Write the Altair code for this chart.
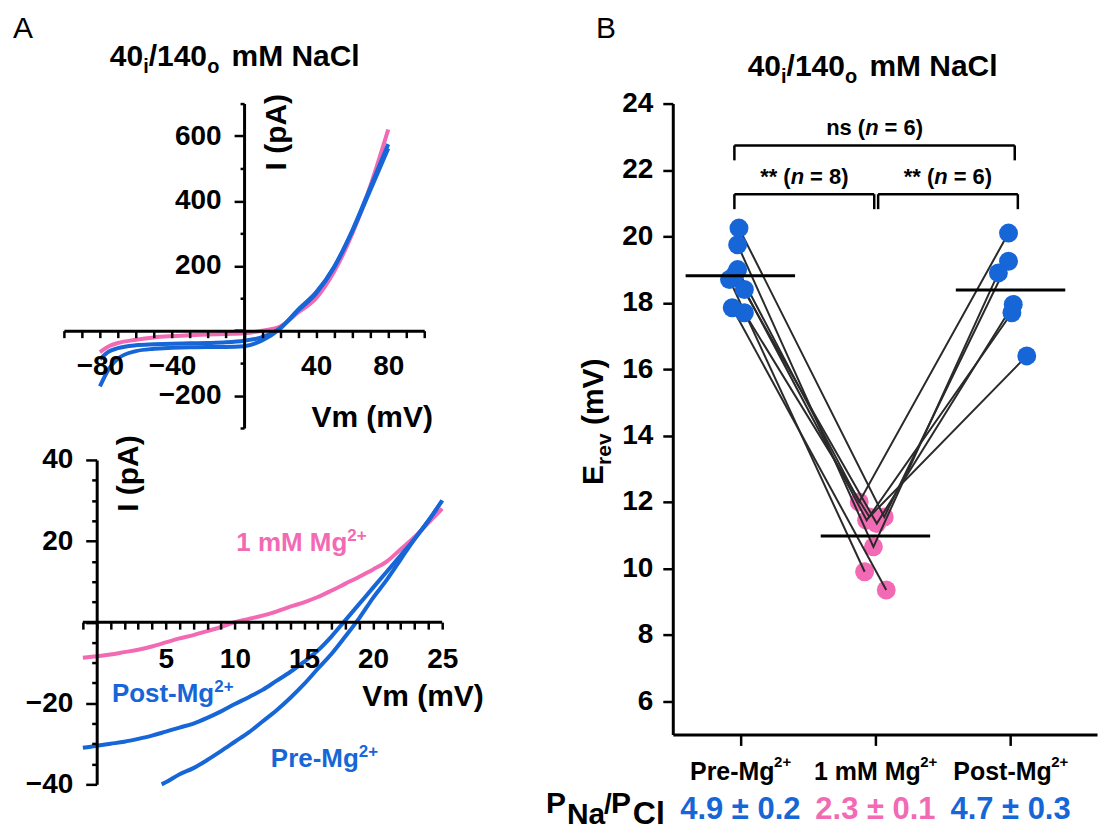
import altair as alt
import pandas as pd

FONT = "Liberation Sans"
BLUE = "#1666D8"
PINK = "#F26AB4"
BLACK = "#000000"
LINK = "#2A2A2A"
NBSP = "\u00a0"

# ---------------- data ----------------
# Panel A (top): whole-cell I-V, 40i/140o mM NaCl
v_top = [-80, -75, -70, -60, -50, -40, -30, -20, -10, 0, 10, 20, 30, 40, 50, 60, 70, 80]
i_top_mg = [-66, -48, -38, -28, -21, -17, -14, -12, -10, -8, 0, 13, 56, 100, 182, 298, 445, 620]
i_top_post = [-88, -64, -54, -45, -42, -40, -39, -38, -36, -31, -20, 8, 62, 115, 195, 305, 432, 562]
i_top_pre = [-172, -118, -86, -63, -56, -53, -51, -50, -50, -48, -30, 6, 65, 118, 197, 308, 440, 575]

# Panel A (bottom): zoom around the reversal potential
v_bot = list(range(-1, 26))
i_bot_mg = [-8.8, -8.4, -8.0, -7.4, -6.8, -6.0, -5.0, -4.0, -3.2, -2.2, -1.2, 0.0, 0.8, 1.6,
            2.6, 3.8, 4.9, 6.2, 7.8, 9.5, 11.2, 13.0, 15.0, 18.0, 21.0, 24.5, 28.0]
i_bot_post = [-31.0, -30.5, -30.0, -29.5, -28.8, -28.0, -27.0, -26.0, -25.0, -23.6, -22.0, -20.2,
              -18.5, -16.7, -14.5, -12.3, -9.8, -7.0, -3.5, 0.5, 4.5, 8.5, 12.5, 16.5, 20.5, 25.0, 30.0]
v_bot_pre = [4.7] + list(range(5, 26))
i_bot_pre = [-40.0, -39.5, -37.5, -36.0, -34.0, -31.8, -29.5, -27.2, -24.5, -21.8, -18.7, -15.3,
             -11.5, -7.8, -3.5, 1.0, 6.0, 10.5, 15.5, 20.5, 25.0, 30.0]
bot_v_range = [-1, 25]

trace_names = ["mg", "pre", "post"]
trace_labels = ["1 mM Mg", "Pre-Mg", "Post-Mg"]
trace_sup = ["2+", "2+", "2+"]
trace_colors = [PINK, BLUE, BLUE]
label_v = [10.1, 12.6, 1.1]
label_i = [17.5, -35.7, -19.7]

# Panel B: reversal potentials per cell
conditions = ["Pre-Mg", "1 mM Mg", "Post-Mg"]
cond_sup = ["2+", "2+", "2+"]
cond_colors = [BLUE, PINK, BLUE]
erev_pre = [20.25, 19.75, 19.0, 18.85, 18.7, 18.4, 17.85, 17.7]
jit_pre = [-0.01, -0.02, -0.02, -0.04, -0.08, 0.03, -0.06, 0.03]
erev_mg = [11.55, 10.65, 12.0, 11.35, 9.9, 11.45, 9.35, 11.55]
jit_mg = [0.065, -0.015, -0.12, 0.01, -0.08, -0.065, 0.08, -0.045]
erev_post = [19.25, 18.9, 20.1, 17.95, None, 17.7, None, 16.4]
jit_post = [-0.015, -0.09, -0.015, 0.02, None, 0.01, None, 0.12]
perm_mean = [4.9, 2.3, 4.7]
perm_sem = [0.2, 0.1, 0.3]

# significance brackets
br_left = [0.956, 0.956, 2.02]
br_right = [3.031, 1.991, 3.054]
br_y = [22.74, 21.27, 21.27]
br_leg = 0.45
br_star = ["ns", "**", "**"]
br_n = [6, 8, 6]

# ---------------- helpers ----------------
ARIAL_BOLD_W = {"n": .611, "s": .556, " ": .278, NBSP: .278, "(": .333, ")": .333, "*": .389,
                "=": .584, "+": .584, "P": .667, "r": .389, "e": .556, "-": .333, "M": .833,
                "g": .611, "m": .889, "o": .611, "t": .333}


def text_width(s, size):
    return sum(ARIAL_BOLD_W.get(c, .556) for c in s) * size


def ptext(txt, x, y, size, color=BLACK, weight="bold", style="normal", align="left",
          baseline="alphabetic", angle=None):
    kw = dict(align=align, baseline=baseline, fontSize=size, fontWeight=weight,
              fontStyle=style, color=color, font=FONT)
    if angle is not None:
        kw["angle"] = angle
    return alt.Chart(pd.DataFrame({"t": [txt]})).mark_text(**kw).encode(
        text="t:N", x=alt.value(x), y=alt.value(y))


def title_parts(x0, y0):
    return [
        ptext("40", x0, y0, 30),
        ptext("i", x0 + 33.5, y0 + 7, 20),
        ptext("/140", x0 + 39, y0, 30),
        ptext("o", x0 + 97.5, y0 + 7, 20),
        ptext("mM NaCl", x0 + 122, y0, 30),
    ]


def tick_cond(major, big, small):
    return {"condition": {"test": f"datum.value % {major} === 0", "value": big}, "value": small}


axis_style = dict(domainColor=BLACK, domainWidth=3, tickColor=BLACK, tickWidth=2.5, ticks=True,
                  tickOpacity=1, labelFont=FONT, labelFontWeight="bold", labelColor=BLACK, grid=False,
                  labelFlush=False, labelOverlap=False, labelBound=False, title=None)

color_scale = alt.Scale(domain=trace_names, range=trace_colors)

# ---------------- Panel A top ----------------
rows = []
for name, arr in [("mg", i_top_mg), ("pre", i_top_pre), ("post", i_top_post)]:
    for v, i in zip(v_top, arr):
        rows.append({"v": v, "i": i, "trace": name})
df_top = pd.DataFrame(rows)

TW, TH = 361, 325
top_lines = alt.Chart(df_top).mark_line(strokeWidth=4, interpolate="monotone").encode(
    x=alt.X("v:Q", scale=alt.Scale(domain=[-100, 100], nice=False, zero=False),
            axis=alt.Axis(**axis_style, orient="bottom", offset=-TH * 0.3, zindex=1,
                          values=list(range(-100, 101, 10)), tickSize=7,
                          labelExpr="(datum.value % 40 === 0 && datum.value !== 0) ? datum.label : ''",
                          labelFontSize=28, labelPadding=15, labelBaseline="top")),
    y=alt.Y("i:Q", scale=alt.Scale(domain=[-300, 700], nice=False, zero=False),
            axis=alt.Axis(**axis_style, orient="left", offset=-TW * 0.5, zindex=1,
                          values=list(range(-300, 701, 100)), tickSize=tick_cond(200, 10, 4),
                          labelExpr="(datum.value % 200 === 0 && datum.value !== 0) ? datum.label : ''",
                          labelFontSize=28, labelPadding=13)),
    color=alt.Color("trace:N", scale=color_scale, legend=None),
)

top_layers = [top_lines,
              ptext("A", -51, -66, 30, weight="normal"),
              ptext("I (pA)", 223, 67, 30, angle=270),
              ptext("Vm (mV)", 248, 324, 30)] + title_parts(46, -38)
topA = alt.layer(*top_layers).properties(width=TW, height=TH)

# ---------------- Panel A bottom ----------------
rows = []
for name, vs, arr in [("mg", v_bot, i_bot_mg), ("pre", v_bot_pre, i_bot_pre), ("post", v_bot, i_bot_post)]:
    for v, i in zip(vs, arr):
        rows.append({"v": v, "i": i, "trace": name})
df_bot = pd.DataFrame(rows)

BW, BH = 379, 325
PX_PER_MV = 360 / 26.0
PX_PER_PA = BH / 80.0
ANN_FS, SUP_FS = 26, 17
df_lab = pd.DataFrame({"v": label_v, "i": label_i, "label": trace_labels, "trace": trace_names})
df_sup = pd.DataFrame({
    "v": [v + text_width(t, ANN_FS) / PX_PER_MV for v, t in zip(label_v, trace_labels)],
    "i": [i + 10 / PX_PER_PA for i in label_i],
    "label": trace_sup, "trace": trace_names})

V_LO = bot_v_range[0] - 19 / PX_PER_MV          # leave room left of the -1 mV start
bot_x = alt.X("v:Q", scale=alt.Scale(domain=[V_LO, bot_v_range[1]], nice=False, zero=False),
              axis=alt.Axis(**axis_style, domain=False, orient="bottom", offset=-BH * 0.5, zindex=1,
                            values=list(range(-1, 26)), tickSize=7,
                            labelExpr="(datum.value % 5 === 0 && datum.value !== 0) ? datum.label : ''",
                            labelFontSize=28, labelPadding=16, labelBaseline="top"))
bot_y = alt.Y("i:Q", scale=alt.Scale(domain=[-40, 40], nice=False, zero=False),
              axis=alt.Axis(**axis_style, orient="left", offset=-(0 - V_LO) * PX_PER_MV, zindex=1,
                            values=list(range(-40, 41, 5)), tickSize=tick_cond(20, 11, 5),
                            labelExpr="(datum.value % 20 === 0 && datum.value !== 0) ? datum.label : ''",
                            labelFontSize=28, labelPadding=13))
bot_lines = alt.Chart(df_bot).mark_line(strokeWidth=4, interpolate="monotone").encode(
    x=bot_x, y=bot_y, color=alt.Color("trace:N", scale=color_scale, legend=None))
bot_labels = alt.Chart(df_lab).mark_text(align="left", baseline="alphabetic", fontSize=ANN_FS,
                                         fontWeight="bold", font=FONT).encode(
    x=bot_x, y=bot_y, text="label:N", color=alt.Color("trace:N", scale=color_scale, legend=None))
bot_sups = alt.Chart(df_sup).mark_text(align="left", baseline="alphabetic", fontSize=SUP_FS,
                                       fontWeight="bold", font=FONT).encode(
    x=bot_x, y=bot_y, text="label:N", color=alt.Color("trace:N", scale=color_scale, legend=None))
x_axis_line = alt.Chart(pd.DataFrame({"v": [bot_v_range[0]], "v2": [bot_v_range[1]], "i": [0]})).mark_rule(
    color=BLACK, strokeWidth=3).encode(x=bot_x, x2="v2:Q", y=bot_y)
botA = alt.layer(bot_lines, x_axis_line, bot_labels, bot_sups,
                 ptext("I (pA)", 74, 52, 30, angle=270),
                 ptext("Vm (mV)", 299, 247, 30)).properties(width=BW, height=BH)

# ---------------- Panel B ----------------
rows = []
for c in range(len(erev_pre)):
    rows.append({"cell": c, "stage": 1, "erev": erev_pre[c], "jit": jit_pre[c]})
    rows.append({"cell": c, "stage": 2, "erev": erev_mg[c], "jit": jit_mg[c]})
    if erev_post[c] is not None:
        rows.append({"cell": c, "stage": 3, "erev": erev_post[c], "jit": jit_post[c]})
df_b = pd.DataFrame(rows)

PW, PH = 425, 632
CAT_FS, CAT_SUP_FS = 25, 15
sup_w = text_width("2+", CAT_SUP_FS)
label_expr = " : ".join(f"datum.value === {k + 1} ? '{n}'" for k, n in enumerate(conditions)) + " : ''"
bx = alt.X("x:Q", scale=alt.Scale(domain=[0.5, 3.64], nice=False, zero=False),
           axis=alt.Axis(**axis_style, orient="bottom", values=[1, 2, 3], tickSize=11,
                         labelExpr=label_expr, labelFontSize=CAT_FS, labelPadding=14,
                         labelOffset=-sup_w / 2, labelBaseline="top"))
by = alt.Y("erev:Q", scale=alt.Scale(domain=[5, 24], nice=False, zero=False),
           axis=alt.Axis(**axis_style, orient="left", values=list(range(6, 25)),
                         tickSize=tick_cond(2, 10, 5),
                         labelExpr="datum.value % 2 === 0 ? datum.label : ''",
                         labelFontSize=28, labelPadding=10))

base_b = alt.Chart(df_b).transform_calculate(x="datum.stage + datum.jit")

pink_dots = base_b.transform_filter("datum.stage === 2").mark_circle(
    size=360, opacity=1, color=PINK).encode(x=bx, y=by)
links = base_b.mark_line(color=LINK, strokeWidth=2).encode(
    x=bx, y=by, detail="cell:N", order="stage:Q")
blue_dots = base_b.transform_filter("datum.stage !== 2").mark_circle(
    size=360, opacity=1, color=BLUE).encode(x=bx, y=by)
means = alt.Chart(df_b).transform_aggregate(m="mean(erev)", groupby=["stage"]).transform_calculate(
    xl="datum.stage - 0.405", xr="datum.stage + 0.405").mark_rule(
    color=BLACK, strokeWidth=3).encode(x="xl:Q", x2="xr:Q", y="m:Q")

seg = []
for l, r, y in zip(br_left, br_right, br_y):
    seg.append({"x": l, "x2": r, "y": y, "y2": y})
    seg.append({"x": l, "x2": l, "y": y, "y2": y - br_leg})
    seg.append({"x": r, "x2": r, "y": y, "y2": y - br_leg})
brackets = alt.Chart(pd.DataFrame(seg)).mark_rule(color=BLACK, strokeWidth=2.5).encode(
    x="x:Q", x2="x2:Q", y="y:Q", y2="y2:Q")

br_texts = []
FS = 22
for l, r, y, star, n in zip(br_left, br_right, br_y, br_star, br_n):
    left_s, mid_s, right_s = f"{star}{NBSP}(", "n", f"={NBSP}{n})"
    wl, wm, wr = text_width(left_s, FS), text_width(mid_s, FS), text_width(right_s, FS)
    gap = 6
    start = -(wl + wm + gap + wr) / 2
    d = pd.DataFrame({"x": [(l + r) / 2], "y": [y + 0.3]})
    common = dict(baseline="alphabetic", fontSize=FS, fontWeight="bold", font=FONT, color=BLACK)
    br_texts.append(alt.Chart(d).mark_text(align="right", dx=start + wl, **common).encode(
        x="x:Q", y="y:Q", text=alt.value(left_s)))
    br_texts.append(alt.Chart(d).mark_text(align="left", dx=start + wl, fontStyle="italic", **common).encode(
        x="x:Q", y="y:Q", text=alt.value(mid_s)))
    br_texts.append(alt.Chart(d).mark_text(align="left", dx=start + wl + wm + gap, **common).encode(
        x="x:Q", y="y:Q", text=alt.value(right_s)))

# superscript "2+" after each category label
cat_sup_layers = []
for k, (name, sup) in enumerate(zip(conditions, cond_sup)):
    d = pd.DataFrame({"x": [k + 1], "t": [sup]})
    cat_sup_layers.append(alt.Chart(d).mark_text(
        align="left", baseline="alphabetic", fontSize=CAT_SUP_FS, fontWeight="bold", font=FONT,
        color=BLACK, dx=text_width(name, CAT_FS) / 2 - sup_w / 2).encode(
        x="x:Q", y=alt.value(665), text="t:N"))

df_perm = pd.DataFrame({"x": [1, 2, 3],
                        "label": [f"{m} ± {s}" for m, s in zip(perm_mean, perm_sem)],
                        "col": cond_colors})
perm_text = alt.Chart(df_perm).mark_text(fontSize=31, fontWeight="bold", font=FONT,
                                         baseline="alphabetic", align="center").encode(
    x="x:Q", y=alt.value(717), text="label:N", color=alt.Color("col:N", scale=None))

b_layers = [pink_dots, links, blue_dots, means, brackets] + br_texts + cat_sup_layers + [
    perm_text,
    ptext("B", -77, -66, 30, weight="normal"),
    ptext("E", -70, 382, 30, angle=270),
    ptext("rev", -62, 362, 21, angle=270),
    ptext("(mV)", -70, 322, 30, angle=270),
    ptext("P", -127, 711, 30),
    ptext("Na", -106, 722, 30),
    ptext("/", -69, 711, 28),
    ptext("P", -62, 711, 30),
    ptext("Cl", -40, 722, 32),
] + title_parts(75, -28)
panelB = alt.layer(*b_layers).properties(width=PW, height=PH)

acol = alt.vconcat(topA, botA, spacing=-7)
chart = alt.hconcat(acol, panelB, spacing=62).properties(padding=5).configure(
    font=FONT).configure_view(stroke=None).configure_axis(
    labelOverlap=False, labelFlush=False, labelBound=False)

chart.save("out.html", embed_options={"renderer": "svg", "actions": False})
